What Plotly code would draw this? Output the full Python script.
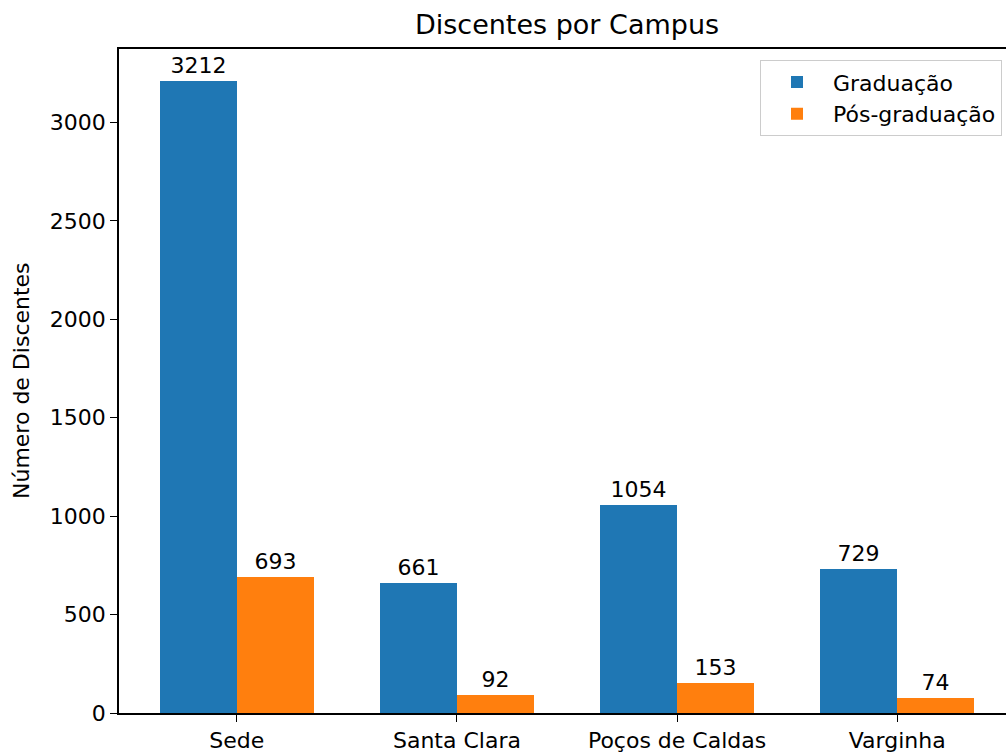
import plotly.graph_objects as go

campus = ["Sede", "Santa Clara", "Poços de Caldas", "Varginha"]
graduacao = [3212, 661, 1054, 729]
pos_graduacao = [693, 92, 153, 74]
yticks = [0, 500, 1000, 1500, 2000, 2500, 3000]

xpos = list(range(len(campus)))
w = 0.35
FS = 22
W, H = 1016, 753
ML, MR = 119, 1
PW = W - ML - MR

fig = go.Figure()
fig.add_trace(go.Bar(
    x=xpos, y=graduacao, name="Graduação", width=w, offset=-w,
    marker=dict(color="#1f77b4", line=dict(width=0)),
    text=[str(v) for v in graduacao], textposition="outside",
    textfont=dict(size=FS, color="black"), cliponaxis=False,
))
fig.add_trace(go.Bar(
    x=xpos, y=pos_graduacao, name="Pós-graduação", width=w, offset=0,
    marker=dict(color="#ff7f0e", line=dict(width=0)),
    text=[str(v) for v in pos_graduacao], textposition="outside",
    textfont=dict(size=FS, color="black"), cliponaxis=False,
))

fig.update_layout(
    width=W, height=H,
    margin=dict(l=ML, r=MR, t=49, b=40),
    paper_bgcolor="white", plot_bgcolor="white",
    font=dict(family="DejaVu Sans", size=FS, color="black"),
    title=dict(text="Discentes por Campus", xref="paper", x=0.5, xanchor="center",
               y=1 - 25 / H, yanchor="middle", font=dict(size=27)),
    barmode="overlay",
    bargap=0,
    showlegend=True,
    legend=dict(x=(1002 - ML) / PW, y=0.983, xanchor="right", yanchor="top",
                bordercolor="#cccccc", borderwidth=1, bgcolor="rgba(255,255,255,0.8)",
                font=dict(size=FS), itemwidth=62),
    annotations=[dict(text="Número de Discentes", textangle=-90, xref="paper", yref="paper",
                      x=(21 - ML) / PW, y=0.5, xanchor="center", yanchor="middle",
                      showarrow=False, font=dict(size=FS))],
)
fig.update_xaxes(
    range=[-0.535, 3.535], tickvals=xpos, ticktext=campus,
    showline=True, linecolor="black", linewidth=1.5, mirror=True,
    ticks="outside", ticklen=7, tickcolor="black", showgrid=False, zeroline=False,
)
fig.update_yaxes(
    range=[0, 3372.6], tickvals=yticks, mirror=False,
    showline=True, linecolor="black", linewidth=1.5,
    ticks="outside", ticklen=7, tickcolor="black", showgrid=False, zeroline=False,
)

fig.write_html("out.html", config={"displayModeBar": False},
               post_script="document.body.style.margin='0';document.body.style.overflow='hidden';")
